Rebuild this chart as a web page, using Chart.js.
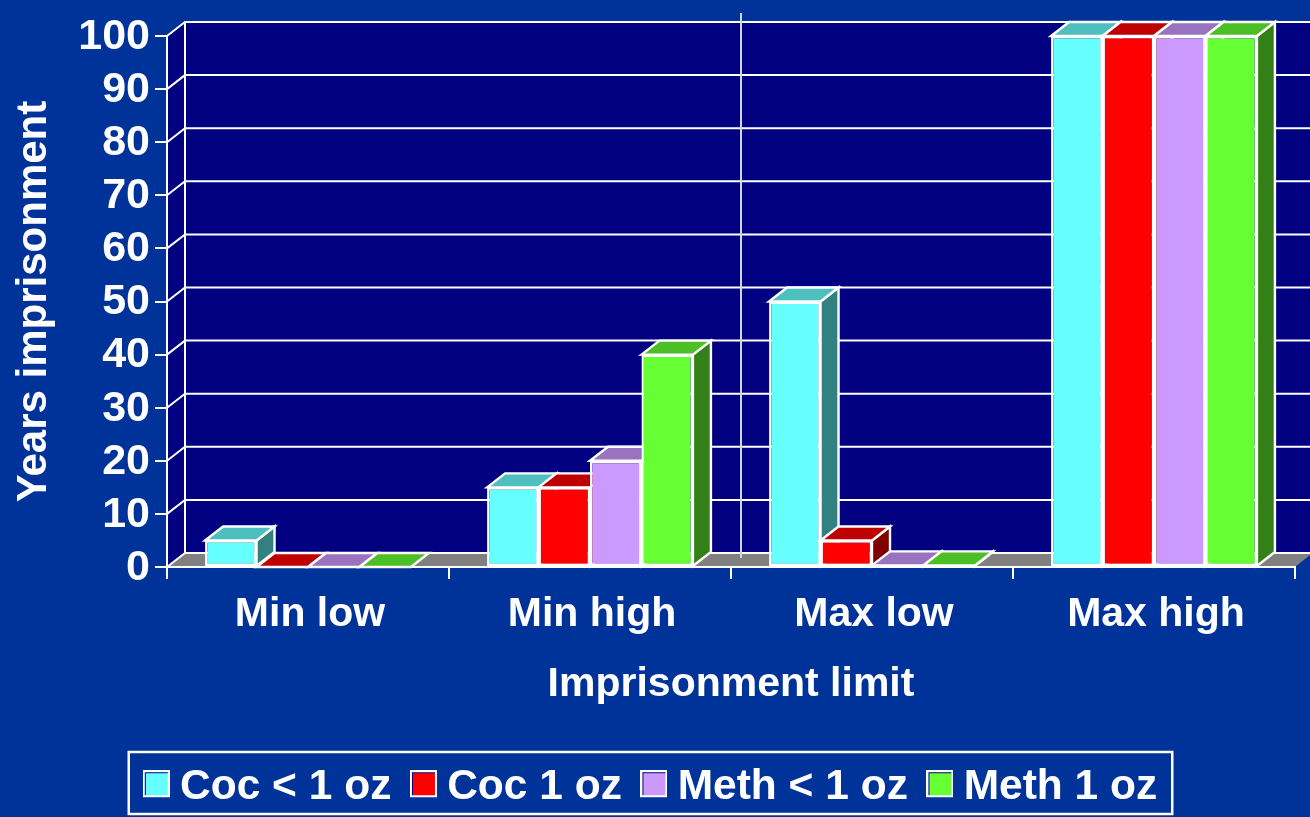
<!DOCTYPE html>
<html><head><meta charset="utf-8">
<style>html,body{margin:0;padding:0;background:#003399;overflow:hidden}canvas{display:block}</style>
<script src="https://cdn.jsdelivr.net/npm/chart.js@4/dist/chart.umd.min.js"></script>
</head><body><canvas id="c" width="1310" height="817"></canvas>
<script>
const categories = ['Min low','Min high','Max low','Max high'];
const cocLess = [5,15,50,100];
const coc1 = [0,15,5,100];
const methLess = [0,20,0.3,100];
const meth1 = [0,40,0.3,100];
const seriesNames = ['Coc < 1 oz','Coc 1 oz','Meth < 1 oz','Meth 1 oz'];
const frontColors = ['#66FFFF','#FF0000','#CC99FF','#66FF33'];
const topColors = ['#4DBFBF','#BF0000','#9973BF','#4DBF26'];
const sideColors = ['#338080','#800000','#664D80','#338019'];
const FONT = '"Liberation Sans", Arial, sans-serif';
const DX = 18, DY = 14;

function legendSwatch(color){
  const s = document.createElement('canvas'); s.width = 27; s.height = 35;
  const g = s.getContext('2d');
  g.fillStyle = '#FFFFFF'; g.fillRect(0,0,27,27);
  g.fillStyle = '#000080'; g.fillRect(2,2,23,23);
  g.fillStyle = color; g.fillRect(3,3,22,22);
  return s;
}

function poly(ctx, pts, fill){
  ctx.beginPath();
  pts.forEach((p,i)=> i ? ctx.lineTo(p[0],p[1]) : ctx.moveTo(p[0],p[1]));
  ctx.closePath();
  ctx.fillStyle = fill; ctx.fill();
  ctx.strokeStyle = '#FFFFFF'; ctx.lineWidth = 2.4; ctx.lineJoin = 'miter'; ctx.stroke();
}

const wall3d = {
  id:'wall3d',
  beforeDraw(chart){
    const {ctx, chartArea:a, scales:{y}} = chart;
    ctx.save();
    ctx.fillStyle = '#003399'; ctx.fillRect(0,0,chart.width,chart.height);
    ctx.fillStyle = '#000080';
    ctx.beginPath(); ctx.moveTo(a.left,a.bottom); ctx.lineTo(a.left,a.top);
    ctx.lineTo(a.left+DX,a.top-DY); ctx.lineTo(a.right+DX,a.top-DY);
    ctx.lineTo(a.right+DX,a.bottom-DY); ctx.lineTo(a.right,a.bottom); ctx.closePath(); ctx.fill();
    ctx.fillStyle = '#808080';
    ctx.beginPath(); ctx.moveTo(a.left,a.bottom); ctx.lineTo(a.left+DX,a.bottom-DY);
    ctx.lineTo(a.right+DX,a.bottom-DY); ctx.lineTo(a.right,a.bottom); ctx.closePath(); ctx.fill();
    ctx.strokeStyle = '#FFFFFF'; ctx.lineWidth = 2;
    y.ticks.forEach(t=>{
      const py = y.getPixelForValue(t.value);
      ctx.beginPath(); ctx.moveTo(a.left,py); ctx.lineTo(a.left+DX,py-DY); ctx.lineTo(a.right+DX,py-DY); ctx.stroke();
    });
    ctx.beginPath(); ctx.moveTo(a.left+DX,a.top-DY); ctx.lineTo(a.left+DX,a.bottom-DY); ctx.stroke();
    ctx.restore();
  },
  beforeDatasetsDraw(chart){
    const {ctx} = chart;
    chart.getSortedVisibleDatasetMetas().forEach((meta)=>{
      const i = meta.index;
      ctx.save();
      meta.data.forEach(b=>{
        const hw = b.width/2, x0 = b.x-hw, x1 = b.x+hw, yt = b.y, yb = b.base;
        if (yb-yt > 0.5) poly(ctx,[[x1,yt],[x1+DX,yt-DY],[x1+DX,yb-DY],[x1,yb]],sideColors[i]);
        poly(ctx,[[x0,yt],[x0+DX,yt-DY],[x1+DX,yt-DY],[x1,yt]],topColors[i]);
      });
      ctx.restore();
      meta.controller.draw();
    });
    return false;
  },
  afterDraw(chart){
    const {ctx, chartArea:a} = chart; const l = chart.legend;
    const x = a.left + (a.right-a.left)*0.5 + 10;
    ctx.save();
    ctx.strokeStyle = '#D0D4E4'; ctx.lineWidth = 2;
    ctx.beginPath(); ctx.moveTo(x,a.top-23); ctx.lineTo(x,a.bottom-9); ctx.stroke();
    ctx.strokeStyle = '#FFFFFF'; ctx.lineWidth = 2.5;
    const hb = l.legendHitBoxes;
    const last = hb[hb.length-1];
    const fl = hb[0].left - 25, fr = last.left + last.width + 15;
    ctx.strokeRect(fl, l.top+15, fr-fl, 62);
    ctx.restore();
  }
};

const vals = [cocLess,coc1,methLess,meth1];
new Chart(document.getElementById('c'),{
  type:'bar',
  data:{labels:categories,datasets:seriesNames.map((n,i)=>({
    label:n,data:vals[i],
    backgroundColor:frontColors[i],borderColor:'#FFFFFF',borderWidth:2.4,borderSkipped:false,clip:false,
    categoryPercentage:0.73,barPercentage:1
  }))},
  options:{
    responsive:false,animation:false,
    layout:{padding:{left:16,right:15,top:36,bottom:-2}},
    plugins:{
      tooltip:{enabled:false},
      legend:{position:'bottom',align:'center',
        labels:{color:'#FFFFFF',font:{family:FONT,weight:'bold',size:42.5},boxWidth:5,padding:29.5,usePointStyle:true,
          generateLabels(chart){
            const items = Chart.defaults.plugins.legend.labels.generateLabels(chart);
            items.forEach((it,i)=>{it.pointStyle = legendSwatch(frontColors[i]);});
            return items;
          }}}
    },
    scales:{
      x:{
        offset:true,
        border:{display:true,color:'#FFFFFF',width:2},
        grid:{display:true,drawOnChartArea:false,drawTicks:true,tickLength:12,color:'#FFFFFF',lineWidth:2,offset:true},
        ticks:{color:'#FFFFFF',font:{family:FONT,weight:'bold',size:41},padding:11,maxRotation:0,labelOffset:2},
        title:{display:true,text:'Imprisonment limit',color:'#FFFFFF',font:{family:FONT,weight:'bold',size:41},padding:{top:0,bottom:28}},
        afterFit(s){ s.height = 170; }
      },
      y:{
        min:0,max:100,
        border:{display:true,color:'#FFFFFF',width:2},
        grid:{display:true,drawOnChartArea:false,drawTicks:true,tickLength:12,color:'#FFFFFF',lineWidth:2},
        ticks:{color:'#FFFFFF',stepSize:10,autoSkip:false,font:{family:FONT,weight:'bold',size:43},padding:5,labelOffset:1},
        title:{display:true,text:'Years imprisonment',color:'#FFFFFF',font:{family:FONT,weight:'bold',size:42},padding:{top:-7,bottom:0}},
        afterFit(s){ s.width = 151; }
      }
    }
  },
  plugins:[wall3d]
});
</script></body></html>
